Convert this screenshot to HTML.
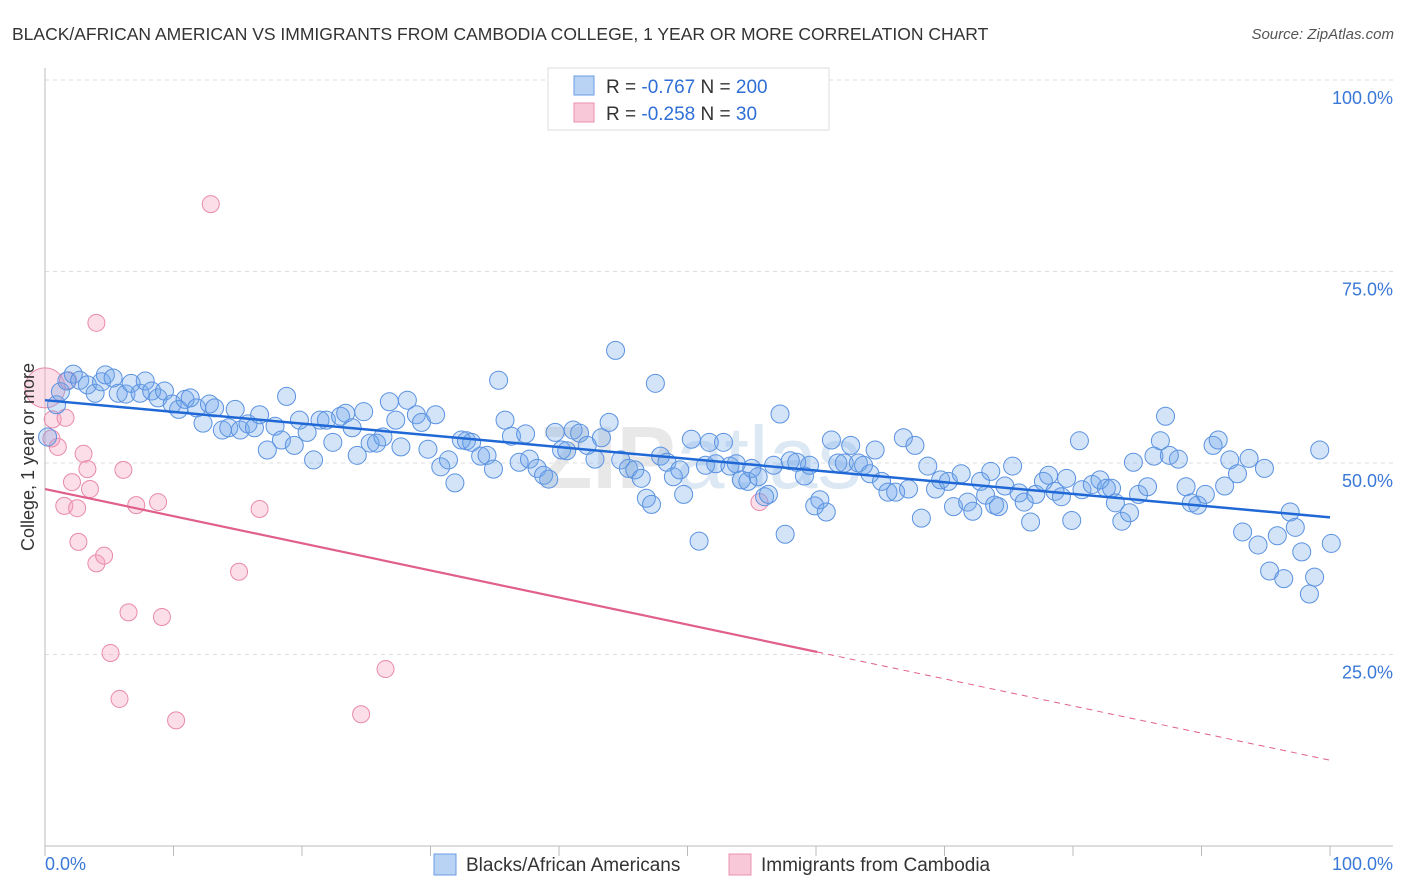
<!DOCTYPE html>
<html><head><meta charset="utf-8"><style>
body{margin:0;background:#fff;font-family:"Liberation Sans",sans-serif;}
#wrap{position:relative;width:1406px;height:892px;overflow:hidden;}
svg text{font-family:"Liberation Sans",sans-serif;}
</style></head><body>
<div id="wrap">
<svg id="chart" width="1406" height="892">
<text x="12" y="40" font-size="17.5" fill="#333">BLACK/AFRICAN AMERICAN VS IMMIGRANTS FROM CAMBODIA COLLEGE, 1 YEAR OR MORE CORRELATION CHART</text>
<text x="1394" y="39" font-size="15" fill="#555" font-style="italic" text-anchor="end">Source: ZipAtlas.com</text>
<text x="700" y="488" font-size="88" fill="#e8e8e8" text-anchor="middle" font-weight="bold">ZIP<tspan fill="#dde8f5" font-weight="normal">atlas</tspan></text>
<g id="grid"></g>
<g id="axes"></g>
<g id="marks"></g>
<text transform="translate(34,457) rotate(-90)" font-size="18" fill="#333" text-anchor="middle">College, 1 year or more</text>
<g>
<rect x="548" y="68" width="281" height="62" fill="#fff" stroke="#ddd"/>
<rect x="574" y="76" width="20" height="19" fill="#b9d3f5" stroke="#6a9be0"/>
<rect x="574" y="103" width="20" height="19" fill="#f9c8d8" stroke="#e892b0"/>
<text x="606" y="93" font-size="19" fill="#333">R = <tspan fill="#2f6fd6">-0.767</tspan>   N = <tspan fill="#2f6fd6">200</tspan></text>
<text x="606" y="120" font-size="19" fill="#333">R = <tspan fill="#2f6fd6">-0.258</tspan>   N = <tspan fill="#2f6fd6">  30</tspan></text>
</g>
<g>
<rect x="434" y="854" width="22" height="21" fill="#b9d3f5" stroke="#6a9be0"/>
<text x="466" y="871" font-size="19" fill="#333">Blacks/African Americans</text>
<rect x="729" y="854" width="22" height="21" fill="#f9c8d8" stroke="#e892b0"/>
<text x="761" y="871" font-size="19" fill="#333">Immigrants from Cambodia</text>
</g>
</svg>
</div>
<script>
const yTicks=[100,75,50,25];
const yTickLabels=["100.0%","75.0%","50.0%","25.0%"];
const xTickLabels=["0.0%","100.0%"];
const blueX=[0.2,0.9,1.2,1.7,2.2,2.7,3.3,3.9,4.4,4.7,5.3,5.7,6.3,6.7,7.4,7.8,8.3,8.8,9.3,9.9,10.4,10.9,11.3,11.8,12.3,12.8,13.2,13.8,14.3,14.8,15.2,15.8,16.3,16.7,17.3,17.9,18.4,18.8,19.4,19.8,20.4,20.9,21.4,21.9,22.4,23.0,23.4,23.9,24.3,24.8,25.3,25.8,26.3,26.8,27.3,27.7,28.2,28.9,29.3,29.8,30.4,30.8,31.4,31.9,32.4,32.8,33.2,33.9,34.4,34.9,35.3,35.8,36.3,36.9,37.4,37.7,38.3,38.8,39.2,39.7,40.2,40.6,41.1,41.6,42.2,42.8,43.3,43.9,44.4,44.8,45.4,45.9,46.4,46.8,47.2,47.5,47.9,48.4,48.9,49.4,49.7,50.3,50.9,51.4,51.7,52.2,52.8,53.3,53.8,54.2,54.7,55.0,55.5,56.0,56.3,56.7,57.2,57.6,58.0,58.5,59.1,59.5,59.9,60.3,60.8,61.2,61.7,62.2,62.7,63.3,63.7,64.2,64.6,65.1,65.6,66.2,66.8,67.2,67.7,68.2,68.7,69.3,69.7,70.3,70.7,71.3,71.8,72.2,72.8,73.2,73.6,73.9,74.2,74.7,75.3,75.8,76.2,76.7,77.1,77.7,78.1,78.6,79.1,79.5,79.9,80.5,80.7,81.5,82.1,82.6,83.0,83.3,83.8,84.4,84.7,85.1,85.8,86.3,86.8,87.2,87.5,88.2,88.8,89.2,89.7,90.3,90.9,91.3,91.8,92.2,92.8,93.2,93.7,94.4,94.9,95.3,95.9,96.4,96.9,97.3,97.8,98.4,98.8,99.2,100.1];
const blueY=[53.4,57.6,59.3,60.7,61.6,60.8,60.2,59.1,60.6,61.5,61.1,59.1,59.0,60.4,59.1,60.7,59.4,58.5,59.4,57.7,57.0,58.3,58.5,57.2,55.2,57.7,57.2,54.3,54.6,57.0,54.3,55.1,54.6,56.3,51.7,54.8,53.0,58.7,52.3,55.6,54.0,50.4,55.6,55.6,52.7,56.1,56.5,54.6,51.0,56.7,52.6,52.6,53.4,58.0,55.6,52.1,58.2,56.3,55.3,51.8,56.3,49.5,50.4,47.4,53.0,52.9,52.7,50.9,51.0,49.2,60.8,55.6,53.5,50.1,53.8,50.5,49.3,48.4,47.9,54.0,51.7,51.6,54.3,53.9,52.3,50.5,53.3,55.3,64.7,50.4,49.3,49.1,48.0,45.4,44.6,60.4,50.9,50.1,48.2,49.1,45.9,53.1,39.8,49.7,52.7,49.9,52.7,49.6,49.9,47.8,47.6,49.3,48.2,45.6,45.9,49.7,56.4,40.7,50.3,50.1,48.3,49.7,44.4,45.2,43.6,53.0,50.0,50.0,52.3,50.0,49.7,48.6,51.7,47.6,46.2,46.2,53.3,46.6,52.3,42.8,49.6,46.6,47.8,47.6,44.3,48.6,44.9,43.7,47.6,45.8,48.9,44.5,44.3,47.0,49.6,46.1,44.9,42.3,45.9,47.6,48.4,46.3,45.6,48.0,42.5,52.9,46.5,47.2,47.8,46.7,46.7,44.8,42.4,43.5,50.1,45.9,46.9,50.9,52.9,56.1,51.0,50.5,46.9,44.8,44.5,45.9,52.3,53.0,47.0,50.4,48.6,41.0,50.6,39.3,49.3,35.9,40.5,34.9,43.6,41.6,38.4,32.9,35.1,51.7,39.5];
const pinkX=[0,0.6,1.0,1.6,1.5,2.1,2.5,2.6,3.0,3.3,3.5,4.0,4.6,5.1,5.8,6.1,6.5,7.1,8.8,9.1,10.2,12.9,15.1,16.7,24.6,26.5,55.6,4.0,1.8,0.5];
const pinkY=[59.8,55.7,52.1,55.9,44.4,47.5,44.1,39.7,51.2,49.2,46.6,36.9,37.9,25.2,19.2,49.1,30.5,44.5,44.9,29.9,16.4,83.8,35.8,44.0,17.2,23.1,44.9,68.3,60.8,53.2];
const blueTrend=[58.2,42.9];
const pinkTrend=[46.6,11.2];
const pinkSolidEnd=60.1;

const X0=45,X1=1330,Y0=846,Y100=80;
const sx=v=>X0+(X1-X0)*v/100;
const sy=v=>Y0-(Y0-Y100)*v/100;
const NS="http://www.w3.org/2000/svg";
function mk(tag,attrs,parent){const e=document.createElementNS(NS,tag);for(const k in attrs)e.setAttribute(k,attrs[k]);parent.appendChild(e);return e;}
const grid=document.getElementById('grid'),axes=document.getElementById('axes'),marks=document.getElementById('marks');
yTicks.forEach((t,i)=>{
  const l=mk('line',{x1:X0,x2:1393,y1:sy(t),y2:sy(t),stroke:'#ddd','stroke-dasharray':'4,4'},grid);
  
  
  const tx=mk('text',{x:1393,y:sy(t)+24,'font-size':18,fill:'#3a78d8','text-anchor':'end'},axes);
  tx.textContent=yTickLabels[i];
  
  
});
const ax=mk('line',{x1:X0,x2:1393,y1:Y0,y2:Y0,stroke:'#bbb'},axes);


const ay=mk('line',{x1:X0,x2:X0,y1:68,y2:Y0,stroke:'#bbb'},axes);


for(let i=0;i<=10;i++){
  const t=mk('line',{x1:sx(i*10),x2:sx(i*10),y1:Y0,y2:Y0+10,stroke:'#bbb'},axes);
  
  
}
const xl0=mk('text',{x:X0,y:870,'font-size':18,fill:'#3a78d8'},axes);
xl0.textContent=xTickLabels[0];


const xl1=mk('text',{x:1393,y:870,'font-size':18,fill:'#3a78d8','text-anchor':'end'},axes);
xl1.textContent=xTickLabels[1];



pinkX.forEach((x,i)=>{
  const c=mk('circle',{cx:sx(x),cy:sy(pinkY[i]),r:i===0?20:8.5,fill:'rgba(246,160,190,0.35)',stroke:'#e88aab','stroke-width':1},marks);
  
  
});
blueX.forEach((x,i)=>{
  const c=mk('circle',{cx:sx(x),cy:sy(blueY[i]),r:9,fill:'rgba(110,165,235,0.3)',stroke:'#5b92e0','stroke-width':1},marks);
  
  
});
const pt=(a,x)=>a[0]+(a[1]-a[0])*x/100;
const bl=mk('line',{x1:sx(0),y1:sy(blueTrend[0]),x2:sx(100),y2:sy(blueTrend[1]),stroke:'#1f68d6','stroke-width':2.5},marks);


const pl=mk('line',{x1:sx(0),y1:sy(pinkTrend[0]),x2:sx(pinkSolidEnd),y2:sy(pt(pinkTrend,pinkSolidEnd)),stroke:'#e0608a','stroke-width':2.2},marks);


const pd=mk('line',{x1:sx(pinkSolidEnd),y1:sy(pt(pinkTrend,pinkSolidEnd)),x2:sx(100),y2:sy(pinkTrend[1]),stroke:'#e0608a','stroke-width':1,'stroke-dasharray':'6,5'},marks);


</script>
</body></html>
